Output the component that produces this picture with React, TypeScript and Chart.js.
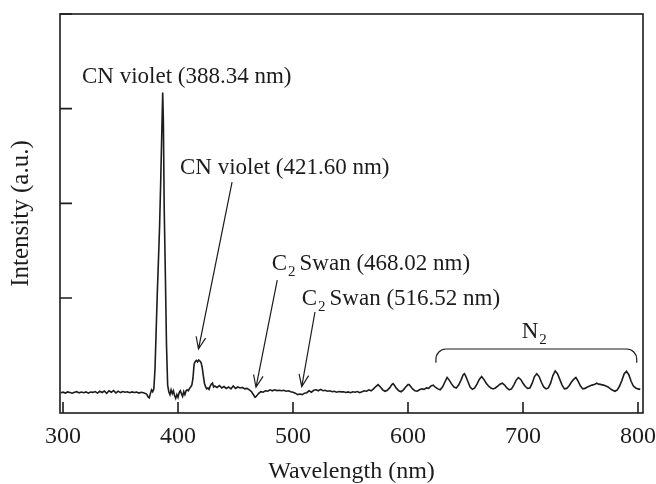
import { useEffect, useRef } from 'react';
import { Chart, registerables } from 'chart.js';

Chart.register(...registerables);

// ---- data ----
const wavelengthNm = [
  298, 300, 302, 304, 306, 308, 310, 312, 314, 316,
  318, 320, 322, 324, 326, 328, 330, 332, 334, 336,
  338, 340, 342, 344, 346, 348, 350, 352, 354, 356,
  358, 360, 362, 364, 366, 368, 370, 372, 373, 374,
  375, 376, 377, 378, 379, 380, 381, 382, 383, 384,
  385, 386, 386.7, 387.3, 388, 389, 390, 391, 392, 393,
  394, 395, 396, 397, 398, 399, 400, 401, 402, 403,
  404, 405, 406, 407, 408, 409, 410, 411, 412, 413,
  414, 415, 416, 417, 418, 419, 420, 421, 422, 423,
  424, 425, 426, 427, 428, 429, 430, 431, 432, 434,
  436, 438, 440, 442, 444, 446, 448, 450, 452, 454,
  456, 458, 460, 462, 464, 466, 467, 468, 470, 472,
  474, 476, 478, 480, 482, 484, 486, 488, 490, 492,
  494, 496, 498, 500, 502, 504, 506, 508, 510, 512,
  514, 516, 518, 520, 522, 524, 526, 528, 530, 532,
  534, 536, 538, 540, 542, 544, 546, 548, 550, 552,
  554, 556, 558, 560, 562, 564, 566, 568, 570, 572,
  574, 576, 578, 580, 582, 584, 586, 587, 588, 590,
  592, 594, 596, 598, 600, 601, 602, 604, 606, 608,
  610, 612, 614, 616, 618, 620, 622, 624, 626, 628,
  630, 632, 634, 636, 638, 640, 642, 644, 646, 648,
  649, 650, 652, 654, 656, 658, 660, 662, 664, 666,
  668, 670, 672, 674, 676, 678, 680, 682, 684, 686,
  688, 690, 692, 694, 696, 698, 700, 702, 704, 706,
  708, 710, 712, 714, 716, 718, 720, 722, 724, 726,
  728, 730, 732, 734, 736, 738, 740, 742, 744, 746,
  748, 750, 752, 754, 756, 758, 760, 762, 764, 766,
  768, 770, 772, 774, 776, 778, 780, 782, 784, 786,
  788, 790, 792, 794, 796, 798, 800, 802,
];

const intensityAu = [
  0.000, 0.005, -0.004, 0.008, 0.002, -0.006, 0.004, 0.010, -0.002, 0.006,
  0.000, 0.008, -0.005, 0.007, 0.003, 0.012, -0.004, 0.015, 0.002, 0.018,
  -0.006, 0.020, 0.004, 0.022, -0.003, 0.016, 0.001, 0.012, 0.004, 0.010,
  0.000, 0.008, 0.002, 0.006, -0.004, 0.004, 0.000, -0.010, -0.020, -0.045,
  -0.055, -0.010, 0.030, 0.010, 0.040, 0.250, 0.650, 1.050, 1.400, 1.760,
  2.250, 2.800, 3.170, 2.850, 1.950, 1.250, 0.500, 0.080, 0.010, -0.020,
  0.030, -0.010, 0.020, -0.030, -0.060, -0.020, -0.050, 0.000, 0.020, -0.010,
  -0.040, 0.010, -0.020, 0.020, 0.030, 0.020, 0.045, 0.060, 0.080, 0.150,
  0.300, 0.330, 0.340, 0.325, 0.345, 0.335, 0.320, 0.270, 0.180, 0.100,
  0.060, 0.040, 0.050, 0.035, 0.070, 0.090, 0.100, 0.060, 0.070, 0.055,
  0.075, 0.050, 0.065, 0.045, 0.060, 0.040, 0.070, 0.045, 0.060, 0.050,
  0.055, 0.040, 0.045, 0.030, 0.010, -0.030, -0.050, -0.040, -0.010, 0.010,
  0.005, 0.020, 0.015, 0.030, 0.020, 0.030, 0.022, 0.025, 0.020, 0.025,
  0.015, 0.020, 0.010, 0.005, -0.005, -0.020, -0.015, -0.020, -0.005, 0.000,
  0.020, 0.005, 0.025, 0.030, 0.020, 0.035, 0.020, 0.025, 0.015, 0.020,
  0.010, 0.015, 0.005, 0.012, 0.008, 0.010, 0.002, 0.008, 0.000, 0.010,
  0.004, 0.012, 0.000, 0.010, 0.020, 0.015, 0.030, 0.020, 0.040, 0.065,
  0.085, 0.060, 0.030, 0.015, 0.025, 0.050, 0.085, 0.095, 0.080, 0.045,
  0.020, 0.010, 0.030, 0.060, 0.085, 0.085, 0.070, 0.040, 0.020, 0.015,
  0.030, 0.040, 0.035, 0.050, 0.045, 0.070, 0.080, 0.055, 0.040, 0.030,
  0.060, 0.110, 0.160, 0.130, 0.090, 0.060, 0.050, 0.080, 0.130, 0.190,
  0.200, 0.180, 0.120, 0.060, 0.035, 0.050, 0.090, 0.140, 0.170, 0.140,
  0.100, 0.070, 0.050, 0.040, 0.050, 0.070, 0.090, 0.100, 0.080, 0.050,
  0.030, 0.040, 0.080, 0.130, 0.160, 0.140, 0.100, 0.065, 0.045, 0.050,
  0.100, 0.170, 0.200, 0.170, 0.110, 0.060, 0.040, 0.050, 0.100, 0.180,
  0.230, 0.200, 0.140, 0.080, 0.040, 0.045, 0.070, 0.110, 0.140, 0.160,
  0.120, 0.070, 0.040, 0.045, 0.060, 0.070, 0.080, 0.085, 0.100, 0.090,
  0.085, 0.080, 0.070, 0.060, 0.040, 0.025, 0.015, 0.030, 0.070, 0.130,
  0.200, 0.225, 0.190, 0.120, 0.070, 0.050, 0.040, 0.035,
];

const xTickValues = [300, 400, 500, 600, 700, 800];
const yTickValues = [1, 2, 3, 4];

const xTitle = 'Wavelength (nm)';
const yTitle = 'Intensity (a.u.)';

// annotation texts: [text, isSubscript] pieces, anchored in data coordinates
const bandLabels = [
  { parts: [['CN violet (388.34 nm)', false]], wl: 316.5, val: 3.27 },
  { parts: [['CN violet (421.60 nm)', false]], wl: 401.7, val: 2.31 },
  { parts: [['C', false], ['2', true], ['Swan (468.02 nm)', false]], wl: 481.5, val: 1.296 },
  { parts: [['C', false], ['2', true], ['Swan (516.52 nm)', false]], wl: 507.6, val: 0.926 },
  { parts: [['N', false], ['2', true]], wl: 698.9, val: 0.574 },
];

// arrows: from (wl, val) to tip (wl, val)
const bandArrows = [
  { from: [447.0, 2.224], to: [417.8, 0.461] },
  { from: [486.3, 1.19], to: [467.8, 0.057] },
  { from: [519.1, 0.852], to: [507.6, 0.063] },
];

// N2 bracket: wavelength span, top level, end level
const n2Bracket = { start: 624.3, end: 798.9, top: 0.461, foot: 0.315 };

const FONT = "'Liberation Serif', 'Times New Roman', Times, serif";
const INK = '#1c1c1c';

const decorPlugin = {
  id: 'decor',
  afterDraw(chart: any) {
    const { ctx, chartArea: a, scales } = chart;
    const x = scales.x;
    const y = scales.y;
    ctx.save();
    ctx.strokeStyle = INK;
    ctx.fillStyle = INK;

    // frame
    ctx.lineWidth = 1.6;
    ctx.strokeRect(a.left, a.top, a.right - a.left, a.bottom - a.top);

    // inward tick marks
    ctx.lineWidth = 1.6;
    ctx.beginPath();
    for (const v of xTickValues) {
      const px = x.getPixelForValue(v);
      ctx.moveTo(px, a.bottom);
      ctx.lineTo(px, a.bottom - 11);
    }
    for (const v of yTickValues) {
      const py = y.getPixelForValue(v);
      ctx.moveTo(a.left, py);
      ctx.lineTo(a.left + 12, py);
    }
    ctx.stroke();

    // labels
    ctx.textAlign = 'left';
    ctx.textBaseline = 'alphabetic';
    for (const lab of bandLabels) {
      let cx = x.getPixelForValue(lab.wl);
      const cy = y.getPixelForValue(lab.val);
      lab.parts.forEach((part, i) => {
        const [t, sub] = part as [string, boolean];
        if (sub) {
          ctx.font = `15px ${FONT}`;
          cx += 1;
          ctx.fillText(t, cx, cy + 6);
          cx += ctx.measureText(t).width + 4;
        } else {
          ctx.font = `23px ${FONT}`;
          ctx.fillText(t, cx, cy);
          cx += ctx.measureText(t).width;
        }
      });
    }

    // arrows
    ctx.lineWidth = 1.2;
    for (const ar of bandArrows) {
      const x0 = x.getPixelForValue(ar.from[0]);
      const y0 = y.getPixelForValue(ar.from[1]);
      const x1 = x.getPixelForValue(ar.to[0]);
      const y1 = y.getPixelForValue(ar.to[1]);
      const ang = Math.atan2(y1 - y0, x1 - x0);
      const len = 13;
      const spread = 0.38;
      ctx.beginPath();
      ctx.moveTo(x0, y0);
      ctx.lineTo(x1, y1);
      ctx.moveTo(x1 - len * Math.cos(ang - spread), y1 - len * Math.sin(ang - spread));
      ctx.lineTo(x1, y1);
      ctx.lineTo(x1 - len * Math.cos(ang + spread), y1 - len * Math.sin(ang + spread));
      ctx.stroke();
    }

    // N2 bracket
    const bl = x.getPixelForValue(n2Bracket.start);
    const br = x.getPixelForValue(n2Bracket.end);
    const bt = y.getPixelForValue(n2Bracket.top);
    const bf = y.getPixelForValue(n2Bracket.foot);
    const r = 10;
    ctx.beginPath();
    ctx.moveTo(bl, bf);
    ctx.arcTo(bl, bt, bl + r, bt, r);
    ctx.arcTo(br, bt, br, bt + r, r);
    ctx.lineTo(br, bf);
    ctx.stroke();

    ctx.restore();
  },
};

export default function App() {
  const ref = useRef<HTMLCanvasElement | null>(null);

  useEffect(() => {
    if (!ref.current) return;
    const points = wavelengthNm.map((w, i) => ({ x: w, y: intensityAu[i] }));
    const chart = new Chart(ref.current, {
      type: 'line',
      data: {
        datasets: [
          {
            data: points,
            borderColor: INK,
            borderWidth: 1.6,
            pointRadius: 0,
            tension: 0,
            fill: false,
          },
        ],
      },
      options: {
        responsive: false,
        animation: false,
        events: [],
        layout: { padding: { top: 14, right: 13, bottom: 0, left: 0 } },
        plugins: { legend: { display: false }, tooltip: { enabled: false } },
        scales: {
          x: {
            type: 'linear',
            min: 297.39,
            max: 804.35,
            afterBuildTicks: (s: any) => {
              s.ticks = xTickValues.map((v) => ({ value: v }));
            },
            afterFit: (s: any) => {
              s.height = 71;
              s.paddingLeft = 0;
              s.paddingRight = 0;
            },
            ticks: {
              autoSkip: false,
              maxRotation: 0,
              padding: 9,
              color: INK,
              font: { family: FONT, size: 24 },
            },
            grid: { display: false, drawTicks: false },
            border: { display: false },
            title: {
              display: true,
              text: xTitle,
              color: INK,
              font: { family: FONT, size: 24, lineHeight: 1.0 },
              padding: 0,
            },
          },
          y: {
            type: 'linear',
            min: -0.2148,
            max: 4,
            afterBuildTicks: (s: any) => {
              s.ticks = yTickValues.map((v) => ({ value: v }));
            },
            afterFit: (s: any) => {
              s.width = 60;
              s.paddingTop = 0;
              s.paddingBottom = 0;
            },
            ticks: { display: false },
            grid: { display: false, drawTicks: false },
            border: { display: false },
            title: {
              display: true,
              text: yTitle,
              color: INK,
              font: { family: FONT, size: 25 },
              padding: { top: 6, bottom: 0 },
            },
          },
        },
      },
      plugins: [decorPlugin],
    } as any);
    return () => chart.destroy();
  }, []);

  return (
    <canvas
      ref={ref}
      width={656}
      height={484}
      style={{ position: 'absolute', left: 0, top: 0, display: 'block' }}
    />
  );
}
